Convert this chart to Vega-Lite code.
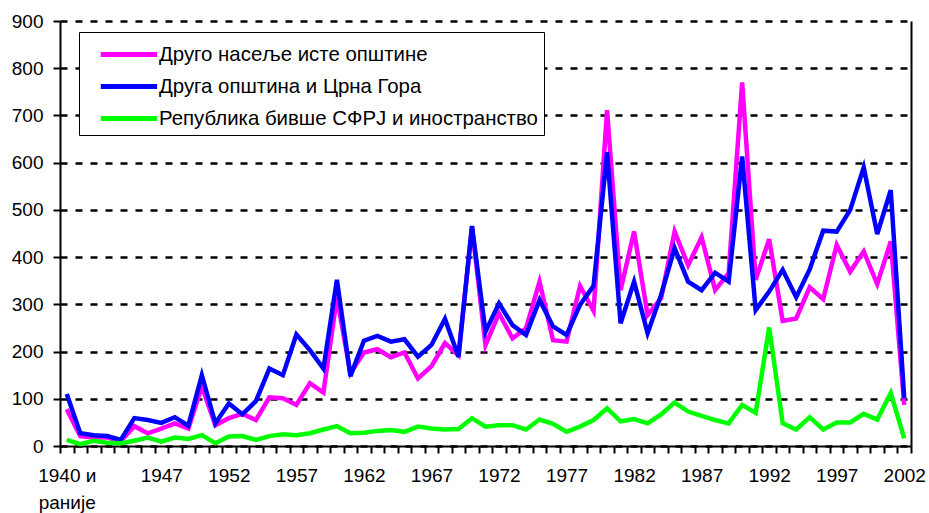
{
  "$schema": "https://vega.github.io/schema/vega-lite/v6.json",
  "autosize": {"type": "none"},
  "width": 851,
  "height": 425,
  "padding": {"left": 60, "top": 21, "right": 18, "bottom": 67},
  "background": "white",
  "config": {
    "view": {"stroke": null},
    "font": "Liberation Sans",
    "axis": {"labelFont": "Liberation Sans", "labelFontSize": 19, "labelColor": "black", "domainColor": "black", "domainWidth": 2, "tickColor": "black", "tickWidth": 2, "title": null}
  },
  "data": {"values": [
    {"year": 1940, "p": 78, "b": 110, "g": 13},
    {"year": 1941, "p": 21, "b": 27, "g": 4},
    {"year": 1942, "p": 18, "b": 23, "g": 11},
    {"year": 1943, "p": 18, "b": 21, "g": 7},
    {"year": 1944, "p": 10, "b": 13, "g": 6},
    {"year": 1945, "p": 42, "b": 59, "g": 11},
    {"year": 1946, "p": 27, "b": 55, "g": 18},
    {"year": 1947, "p": 37, "b": 49, "g": 9},
    {"year": 1948, "p": 48, "b": 61, "g": 18},
    {"year": 1949, "p": 37, "b": 43, "g": 15},
    {"year": 1950, "p": 126, "b": 150, "g": 23},
    {"year": 1951, "p": 44, "b": 48, "g": 6},
    {"year": 1952, "p": 59, "b": 90, "g": 20},
    {"year": 1953, "p": 68, "b": 67, "g": 21},
    {"year": 1954, "p": 55, "b": 95, "g": 13},
    {"year": 1955, "p": 103, "b": 164, "g": 21},
    {"year": 1956, "p": 101, "b": 150, "g": 25},
    {"year": 1957, "p": 87, "b": 236, "g": 23},
    {"year": 1958, "p": 133, "b": 203, "g": 27},
    {"year": 1959, "p": 113, "b": 164, "g": 35},
    {"year": 1960, "p": 315, "b": 352, "g": 42},
    {"year": 1961, "p": 154, "b": 148, "g": 27},
    {"year": 1962, "p": 198, "b": 223, "g": 28},
    {"year": 1963, "p": 205, "b": 233, "g": 32},
    {"year": 1964, "p": 188, "b": 221, "g": 34},
    {"year": 1965, "p": 198, "b": 226, "g": 30},
    {"year": 1966, "p": 143, "b": 189, "g": 41},
    {"year": 1967, "p": 169, "b": 214, "g": 37},
    {"year": 1968, "p": 218, "b": 269, "g": 35},
    {"year": 1969, "p": 192, "b": 189, "g": 36},
    {"year": 1970, "p": 464, "b": 466, "g": 59},
    {"year": 1971, "p": 214, "b": 242, "g": 41},
    {"year": 1972, "p": 281, "b": 302, "g": 44},
    {"year": 1973, "p": 228, "b": 256, "g": 44},
    {"year": 1974, "p": 249, "b": 235, "g": 35},
    {"year": 1975, "p": 348, "b": 309, "g": 56},
    {"year": 1976, "p": 224, "b": 253, "g": 47},
    {"year": 1977, "p": 221, "b": 235, "g": 30},
    {"year": 1978, "p": 339, "b": 299, "g": 41},
    {"year": 1979, "p": 286, "b": 339, "g": 55},
    {"year": 1980, "p": 711, "b": 622, "g": 80},
    {"year": 1981, "p": 330, "b": 260, "g": 52},
    {"year": 1982, "p": 454, "b": 348, "g": 57},
    {"year": 1983, "p": 277, "b": 239, "g": 48},
    {"year": 1984, "p": 313, "b": 320, "g": 67},
    {"year": 1985, "p": 454, "b": 419, "g": 92},
    {"year": 1986, "p": 383, "b": 348, "g": 73},
    {"year": 1987, "p": 442, "b": 330, "g": 64},
    {"year": 1988, "p": 330, "b": 367, "g": 55},
    {"year": 1989, "p": 366, "b": 348, "g": 48},
    {"year": 1990, "p": 770, "b": 613, "g": 87},
    {"year": 1991, "p": 352, "b": 288, "g": 70},
    {"year": 1992, "p": 438, "b": 327, "g": 251},
    {"year": 1993, "p": 265, "b": 373, "g": 48},
    {"year": 1994, "p": 270, "b": 315, "g": 35},
    {"year": 1995, "p": 336, "b": 374, "g": 61},
    {"year": 1996, "p": 311, "b": 456, "g": 35},
    {"year": 1997, "p": 426, "b": 454, "g": 50},
    {"year": 1998, "p": 369, "b": 500, "g": 50},
    {"year": 1999, "p": 412, "b": 590, "g": 68},
    {"year": 2000, "p": 343, "b": 449, "g": 56},
    {"year": 2001, "p": 433, "b": 542, "g": 112},
    {"year": 2002, "p": 87, "b": 101, "g": 16}
  ]},
  "transform": [{"fold": ["p", "b", "g"], "as": ["series", "value"]}],
  "layer": [
    {
      "mark": {"type": "line", "strokeWidth": 4.5, "strokeJoin": "miter", "strokeCap": "butt"},
      "encoding": {
        "x": {"field": "year", "type": "quantitative",
          "scale": {"domain": [1939.5, 2002.5], "nice": false, "zero": false},
          "axis": {"values": [1939.5, 1940.5, 1941.5, 1942.5, 1943.5, 1944.5, 1945.5, 1946.5, 1947.5, 1948.5, 1949.5, 1950.5, 1951.5, 1952.5, 1953.5, 1954.5, 1955.5, 1956.5, 1957.5, 1958.5, 1959.5, 1960.5, 1961.5, 1962.5, 1963.5, 1964.5, 1965.5, 1966.5, 1967.5, 1968.5, 1969.5, 1970.5, 1971.5, 1972.5, 1973.5, 1974.5, 1975.5, 1976.5, 1977.5, 1978.5, 1979.5, 1980.5, 1981.5, 1982.5, 1983.5, 1984.5, 1985.5, 1986.5, 1987.5, 1988.5, 1989.5, 1990.5, 1991.5, 1992.5, 1993.5, 1994.5, 1995.5, 1996.5, 1997.5, 1998.5, 1999.5, 2000.5, 2001.5, 2002.5],
            "labels": false, "ticks": true, "tickSize": 7, "grid": false, "domain": true, "title": null}},
        "y": {"field": "value", "type": "quantitative",
          "scale": {"domain": [0, 900], "nice": false, "zero": true},
          "axis": {"values": [0, 100, 200, 300, 400, 500, 600, 700, 800, 900], "grid": true, "gridColor": "black", "gridDash": [7, 8], "gridWidth": 2.5, "gridOpacity": 1, "tickSize": 7, "labelPadding": 10, "title": null}},
        "color": {"field": "series", "type": "nominal",
          "scale": {"domain": ["p", "b", "g"], "range": ["#ff00ff", "#0000ff", "#00ff00"]},
          "legend": {"title": null, "orient": "none", "legendX": 19, "legendY": 11, "symbolType": "M-1,0H3.1", "symbolSize": 756, "symbolStrokeWidth": 5, "symbolOffset": 13, "labelFontSize": 20.4, "labelFont": "Liberation Sans", "labelColor": "black", "labelOffset": 28, "labelLimit": 600, "padding": 6, "rowPadding": 5, "strokeColor": "black", "fillColor": "white",
            "labelExpr": "datum.value == 'p' ? 'Друго насеље исте општине' : datum.value == 'b' ? 'Друга општина и Црна Гора' : 'Република бивше СФРЈ и иностранство'"}}
      }
    },
    {
      "mark": {"type": "point", "opacity": 0},
      "encoding": {
        "x": {"field": "year", "type": "quantitative",
          "scale": {"domain": [1939.5, 2002.5], "nice": false, "zero": false},
          "axis": {"orient": "bottom", "values": [1940, 1947, 1952, 1957, 1962, 1967, 1972, 1977, 1982, 1987, 1992, 1997, 2002], "format": "d", "ticks": false, "tickSize": 0, "domain": false, "grid": false, "labelPadding": 20, "labelLineHeight": 27, "labelOverlap": false, "labelFlush": false,
            "labelExpr": "datum.value == 1940 ? ['1940 и', 'раније'] : datum.label", "title": null}},
        "y": {"field": "value", "type": "quantitative",
          "scale": {"domain": [0, 900], "nice": false, "zero": true},
          "axis": {"orient": "right", "labels": false, "ticks": false, "grid": false, "domain": true, "title": null}}
      }
    }
  ],
  "resolve": {"axis": {"x": "independent", "y": "independent"}}
}
